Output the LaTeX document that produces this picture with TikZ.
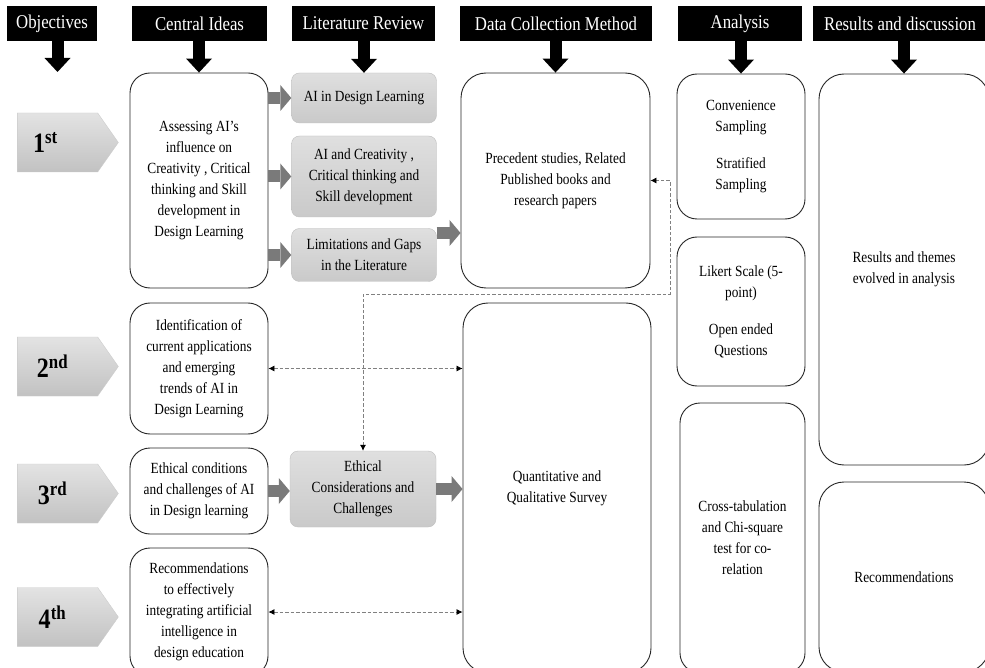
\documentclass[tikz,border=0pt]{standalone}
\usepackage{fontspec}
\setmainfont{Liberation Serif}[FakeStretch=0.86]
\usepackage{tikz}
\usetikzlibrary{shapes,shapes.symbols,arrows.meta,positioning}
\newcommand{\bodyfont}{\fontsize{15.5}{21}\selectfont}
\newcommand{\ordnum}[3][10pt]{\hspace*{-#1}#2\textsuperscript{#3}}
\tikzstyle{header} = [rectangle, fill=black, text=white, minimum height=35pt, inner sep=0pt, font=\fontsize{19.5}{22}\selectfont]
\tikzstyle{objective} = [signal, signal to=east, signal pointer angle=110, top color=gray!22, bottom color=gray!48, draw=gray!40, minimum width=101pt, minimum height=59pt, inner sep=0pt, font=\bfseries\fontsize{28}{30}\selectfont]
\tikzstyle{idea} = [rectangle, rounded corners=20pt, draw=black!85, line width=0.9pt, fill=white, align=center, inner sep=0pt, font=\bodyfont]
\tikzstyle{review} = [rectangle, rounded corners=8pt, draw=gray!50, top color=gray!25, bottom color=gray!42, align=center, inner sep=0pt, font=\bodyfont]
\tikzstyle{downarrow} = [line width=12pt, -{Triangle[length=14pt,width=26pt,line width=0pt]}]
\tikzstyle{grayarrow} = [line width=12pt, black!52, -{Triangle[length=11pt,width=26pt,line width=0pt]}]
\tikzstyle{dasharrow} = [gray, dash pattern=on 3.5pt off 2pt, line width=0.7pt, {Latex[black,length=6pt,width=6pt]}-{Latex[black,length=6pt,width=6pt]}]

\begin{document}
\begin{tikzpicture}[x=1pt,y=-1pt]
    \useasboundingbox (0,0) rectangle (985,668);
    \clip (0,0) rectangle (985,668);
    \fill[white] (0,0) rectangle (985,668);

    % Headers
    \node [header, minimum width=90pt] (hobj) at (52,23.5) {Objectives};
    \node [header, minimum width=135pt] (hci) at (199.5,23.5) {Central Ideas};
    \node [header, minimum width=143pt] (hlr) at (363.5,23.5) {Literature Review};
    \node [header, minimum width=192pt] (hdc) at (556,23.5) {Data Collection Method};
    \node [header, minimum width=124pt] (han) at (740,23.5) {Analysis};
    \node [header, minimum width=174pt] (hres) at (900,23.5) {Results and discussion};

    % Objectives
    \node [objective] (obj1) at (57.5,142.5) {\ordnum[24pt]{1}{st}};
    \node [objective] (obj2) at (57.5,366.5) {\ordnum{2}{nd}};
    \node [objective] (obj3) at (57.5,493.5) {\ordnum{3}{rd}};
    \node [objective] (obj4) at (57.5,617) {\ordnum{4}{th}};
    \coordinate (objtip) at (57.5,72);

    % Central ideas
    \node [idea, minimum width=138pt, minimum height=215pt] (ci1) at (199,180.5) {Assessing AI’s\\ influence on\\ Creativity , Critical\\ thinking and Skill\\ development in\\ Design Learning};
    \node [idea, minimum width=138pt, minimum height=131pt] (ci2) at (199,368.5) {Identification of\\ current applications\\ and emerging\\ trends of AI in\\ Design Learning};
    \node [idea, minimum width=138pt, minimum height=86pt] (ci3) at (199,491) {Ethical conditions\\ and challenges of AI\\ in Design learning};
    \node [idea, minimum width=138pt, minimum height=128pt] (ci4) at (199,612) {Recommendations\\ to effectively\\ integrating artificial\\ intelligence in\\ design education};

    % Literature review
    \node [review, minimum width=145pt, minimum height=50pt] (lr1) at (364,98) {AI in Design Learning};
    \node [review, minimum width=145pt, minimum height=81pt] (lr2) at (364,176.5) {AI and Creativity ,\\ Critical thinking and\\ Skill development};
    \node [review, minimum width=145pt, minimum height=53pt] (lr3) at (364,255) {Limitations and Gaps\\ in the Literature};
    \node [review, minimum width=146pt, minimum height=76pt] (lr4) at (363,489) {Ethical\\ Considerations and\\ Challenges};

    % Data collection
    \node [idea, rounded corners=25pt, minimum width=189pt, minimum height=215pt] (dc1) at (555.5,180.5) {Precedent studies, Related\\ Published books and\\ research papers};
    \node [idea, rounded corners=25pt, minimum width=188pt, minimum height=370pt] (dc2) at (557,488) {Quantitative and\\ Qualitative Survey};

    % Analysis
    \node [idea, minimum width=128pt, minimum height=145pt] (an1) at (741,146.5) {Convenience\\ Sampling\\[16pt] Stratified\\ Sampling};
    \node [idea, minimum width=128pt, minimum height=149pt] (an2) at (741,311.5) {Likert Scale (5-\\ point)\\[16pt] Open ended\\ Questions};
    \node [idea, minimum width=125pt, minimum height=270pt] (an3) at (742.5,538) {Cross-tabulation\\ and Chi-square\\ test for co-\\ relation};

    % Results
    \node [idea, rounded corners=25pt, minimum width=170pt, minimum height=391pt] (res1) at (904,269.5) {Results and themes\\ evolved in analysis};
    \node [idea, rounded corners=25pt, minimum width=170pt, minimum height=190pt] (res2) at (904,577) {Recommendations};

    % Header arrows
    \draw [downarrow] (hobj.south -| objtip) -- (objtip);
    \draw [downarrow] (hci.south -| ci1.north) -- (ci1.north);
    \draw [downarrow] (hlr.south -| lr1.north) -- (lr1.north);
    \draw [downarrow] (hdc.south -| dc1.north) -- (dc1.north);
    \draw [downarrow] (han.south -| an1.north) -- (an1.north);
    \draw [downarrow] (hres.south -| res1.north) -- (res1.north);

    % Flow
    \draw [grayarrow] (ci1.east |- lr1) -- (lr1.west);
    \draw [grayarrow] (ci1.east |- lr2) -- (lr2.west);
    \draw [grayarrow] (ci1.east |- lr3) -- (lr3.west);
    \coordinate (lr3out) at ([yshift=22pt]lr3.east);
    \draw [grayarrow] (lr3out) -- (lr3out -| dc1.west);
    \draw [grayarrow] (ci3.east) -- (ci3.east -| lr4.west);
    \draw [grayarrow] (lr4.east) -- (lr4.east -| dc2.west);

    % Dashed links
    \coordinate (bend) at (670,294);
    \draw [dasharrow] (ci2.east) -- (ci2.east -| dc2.west);
    \draw [dasharrow] (ci4.east) -- (ci4.east -| dc2.west);
    \draw [dasharrow] (lr4.north) |- (bend) |- (dc1.east);
\end{tikzpicture}
\end{document}
